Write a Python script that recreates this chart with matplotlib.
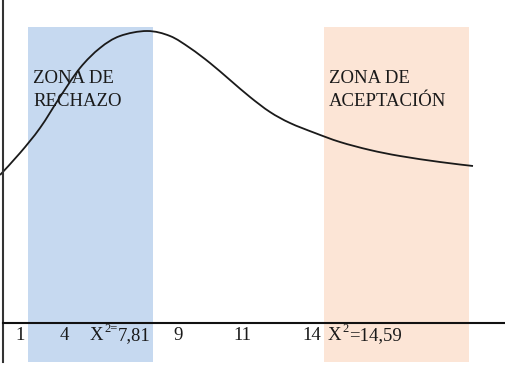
import matplotlib
matplotlib.use("Agg")
import matplotlib.pyplot as plt
from matplotlib.path import Path
from matplotlib.patches import PathPatch

# curve points (x, y), pixel-like coordinates (y grows downward)
curve_x = [0, 20, 40, 60, 80, 100, 120, 147, 170,
           190, 210, 230, 250, 270, 290, 315,
           340, 370, 400, 440, 473]
curve_y = [175, 153, 128, 97, 68, 48, 36, 31, 36,
           48, 63, 80, 97, 112, 123, 133,
           142, 150, 156, 162, 166]

zone_labels = [("ZONA DE", "RECHAZO"), ("ZONA DE", "ACEPTACIÓN")]
zone_spans = [(28, 153), (324, 469)]
zone_colors = ["#C6D9F0", "#FCE5D6"]

# tick labels: (base, superscript, rest)
tick_labels = [("1", "", ""), ("4", "", ""), ("X", "2=", "7,81"), ("9", "", ""),
               ("11", "", ""), ("14", "", ""), ("X", "2", "=14,59")]
tick_pos = [15, 60, 90, 173, 233, 302, 328]

fig = plt.figure(figsize=(5.06, 3.67), dpi=100)
ax = fig.add_axes([0, 0, 1, 1])
ax.set_xlim(0, 506)
ax.set_ylim(367, 0)
ax.axis("off")

font = dict(family="Liberation Serif", size=13.5, color="#1a1a1a")
supfont = dict(family="Liberation Serif", size=9, color="#1a1a1a")

for (x0, x1), c, lab in zip(zone_spans, zone_colors, zone_labels):
    ax.fill_between([x0, x1], 27, 362, color=c, lw=0, zorder=1)
    ax.text(x0 + 5, 83, lab[0], ha="left", va="baseline", zorder=3, **font)
    ax.text(x0 + 5, 106, lab[1], ha="left", va="baseline", zorder=3, **font)

# smooth rendering of the read points (Catmull-Rom as cubic Beziers)
pts = list(zip(curve_x, curve_y))
verts = [pts[0]]
codes = [Path.MOVETO]
n = len(pts)
for i in range(n - 1):
    p0 = pts[i - 1] if i > 0 else pts[i]
    p1 = pts[i]
    p2 = pts[i + 1]
    p3 = pts[i + 2] if i + 2 < n else pts[i + 1]
    c1 = (p1[0] + (p2[0] - p0[0]) / 6.0, p1[1] + (p2[1] - p0[1]) / 6.0)
    c2 = (p2[0] - (p3[0] - p1[0]) / 6.0, p2[1] - (p3[1] - p1[1]) / 6.0)
    verts += [c1, c2, p2]
    codes += [Path.CURVE4] * 3
ax.add_patch(PathPatch(Path(verts, codes), fill=False, edgecolor="#1a1a1a",
                       lw=1.3, zorder=4))

ax.plot([3, 3], [0, 362], color="#333333", lw=1.5, zorder=5)
ax.plot([3, 506], [323, 323], color="#111111", lw=1.5, zorder=5)

for (base, sup, rest), x in zip(tick_labels, tick_pos):
    t = ax.text(x, 340, base, ha="left", va="baseline", zorder=6, **font)
    if sup:
        ax.annotate(sup, xy=(x, 340), xytext=(10.2, 5.5), textcoords="offset points",
                    ha="left", va="baseline", zorder=6, **supfont)
        supw = 4.6 * len(sup) + 0.4
        ax.annotate(rest, xy=(x, 340), xytext=(10.2 + supw, 0), textcoords="offset points",
                    ha="left", va="baseline", zorder=6, **font)

fig.savefig("out.png", dpi=100)
